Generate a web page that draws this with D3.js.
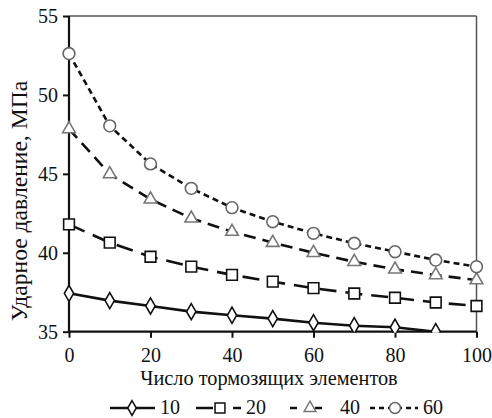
<!DOCTYPE html>
<html><head><meta charset="utf-8">
<script src="https://cdn.jsdelivr.net/npm/d3@7"></script>
</head><body style="margin:0"><svg id="c" width="492" height="418" style="display:block"></svg>
<script>
const xValues = [0,10,20,30,40,50,60,70,80,90,100];
const seriesNames = ["10","20","40","60"];
const s10 = [37.43,36.97,36.63,36.27,36.04,35.83,35.57,35.38,35.28,35.0,34.8];
const s20 = [41.8,40.64,39.75,39.12,38.6,38.17,37.76,37.42,37.15,36.85,36.63];
const s40 = [47.84,44.99,43.39,42.18,41.34,40.64,40.0,39.43,38.95,38.59,38.27];
const s60 = [52.62,48.04,45.63,44.08,42.86,41.97,41.23,40.6,40.07,39.54,39.12];
const xTicks = [0,20,40,60,80,100];
const yTicks = [35,40,45,50,55];
const xTitle = "Число тормозящих элементов";
const yTitle = "Ударное давление, МПа";

const styles = [
  {data:s10, sym:d3.symbolDiamond, size:75, dash:null, mstroke:"#111", legDash:null, mx:22},
  {data:s20, sym:d3.symbolSquare, size:115, dash:"17,9", mstroke:"#111", legDash:"17,20,8", mx:24},
  {data:s40, sym:d3.symbolTriangle, size:70, dash:"12,7", mstroke:"#777", legDash:"7,18,7,40", mx:20},
  {data:s60, sym:d3.symbolCircle, size:110, dash:"6,4", mstroke:"#666", legDash:"5,4", mx:25}
];

const svg = d3.select("#c");
const L=69, R=476.5, T=16, B=331.7;
const x = d3.scaleLinear().domain([0,100]).range([L,R]);
const y = d3.scaleLinear().domain([35,55]).range([B,T]);

const defs = svg.append("defs");
defs.append("clipPath").attr("id","clip").append("rect")
  .attr("x",L-10).attr("y",T-10).attr("width",R-L+20).attr("height",B-T+10);
defs.append("clipPath").attr("id","clip2").append("rect")
  .attr("x",L-10).attr("y",T-10).attr("width",R-L+20).attr("height",B-T+11);

svg.append("line").attr("x1",L).attr("x2",R).attr("y1",T).attr("y2",T).attr("stroke","#555").attr("stroke-width",1.5);
svg.append("line").attr("x1",R).attr("x2",R).attr("y1",T).attr("y2",B).attr("stroke","#555").attr("stroke-width",1.5);

const gx = svg.append("g").attr("transform",`translate(0,${B})`)
  .call(d3.axisBottom(x).tickValues(xTicks).tickSize(6).tickPadding(10));
const gy = svg.append("g").attr("transform",`translate(${L},0)`)
  .call(d3.axisLeft(y).tickValues(yTicks).tickSize(6).tickPadding(5));
[gx,gy].forEach(g=>{
  g.attr("font-family","Liberation Serif").attr("font-size",20);
  g.select(".domain").attr("stroke","#111").attr("stroke-width",2.2);
  g.selectAll(".tick line").attr("stroke","#111").attr("stroke-width",2);
});
gx.select(".domain").attr("d",`M${L},0H${R}`);
gy.select(".domain").attr("d",`M0,${B}V${T}`);

const xt = svg.append("text").attr("x",269).attr("y",385).attr("text-anchor","middle").text(xTitle);
const yt = svg.append("text").attr("transform",`translate(27,201) rotate(-90)`).attr("text-anchor","middle").text(yTitle);

const plot = svg.append("g").attr("clip-path","url(#clip)");
const line = d3.line().x((d,i)=>x(xValues[i])).y(d=>y(d));
styles.forEach(s=>{
  plot.append("path").datum(s.data).attr("d",line).attr("fill","none")
    .attr("stroke","#111").attr("stroke-width",2.6).attr("stroke-dasharray",s.dash);
});
const marks = svg.append("g").attr("clip-path","url(#clip2)");
styles.forEach(s=>{
  marks.selectAll(null).data(s.data.map((v,i)=>[xValues[i],v]).filter(d=>d[1]>=34.95)).enter()
    .append("path").attr("d",d3.symbol().type(s.sym).size(s.size))
    .attr("transform",d=>`translate(${x(d[0])},${y(d[1])})`)
    .attr("fill","#fff").attr("stroke",s.mstroke).attr("stroke-width",1.6);
});

const lx = [110,196,290,370];
const ly = 408;
styles.forEach((s,i)=>{
  const g = svg.append("g").attr("transform",`translate(${lx[i]},${ly})`);
  g.append("line").attr("x1",0).attr("x2",i===3?48:45).attr("y1",0).attr("y2",0)
    .attr("stroke","#111").attr("stroke-width",2.4).attr("stroke-dasharray",s.legDash);
  g.append("path").attr("d",d3.symbol().type(s.sym).size(s.size*0.85)).attr("transform",`translate(${s.mx},0)`)
    .attr("fill","#fff").attr("stroke",s.mstroke).attr("stroke-width",1.5);
  g.append("text").attr("x",i===3?53:50).attr("y",6).text(seriesNames[i]);
});

svg.selectAll("text").each(function(){
  this.setAttribute("font-family","Liberation Serif");
  this.setAttribute("font-size","20");
  this.setAttribute("fill","#111");
  this.style.fontFamily = "'Liberation Serif', 'Times New Roman', serif";
  this.style.fontSize = "20px";
});

[[xt,258],[yt,240]].forEach(([t,w])=>{
  const len = t.node().getComputedTextLength();
  const fs = len>0 ? Math.min(24,20*w/len) : 21;
  t.attr("font-size",fs.toFixed(1)).style("font-size",fs.toFixed(1)+"px");
});
</script></body></html>
